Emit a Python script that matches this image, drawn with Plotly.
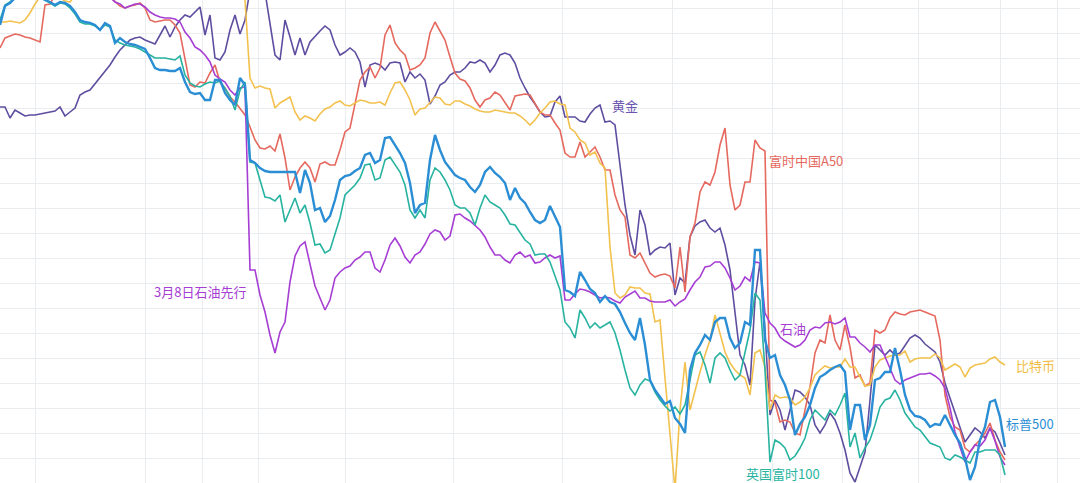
import plotly.graph_objects as go

# Relative performance (% change, one point per trading day)
gold = [-10.7,-10.7,-11.8,-11.0,-11.3,-11.6,-11.5,-11.5,-11.4,-11.3,-11.2,-11.1,-10.7,-11.6,-11.2,-10.8,-9.5,-9.2,-9.0,-8.4,
        -7.8,-7.1,-6.5,-5.7,-5.0,-4.5,-4.0,-3.8,-3.7,-4.0,-4.2,-4.4,-3.5,-2.6,-3.7,-2.7,-2.0,-1.5,-1.7,-1.2,
        -0.7,-3.5,-1.5,-5.8,-6.0,-5.2,-3.0,-1.5,-3.4,-2.0,1.0,1.5,1.5,0.8,-2.5,-5.5,-6.0,-2.0,-3.7,-5.5,
        -3.8,-5.5,-4.2,-3.6,-3.1,-2.6,-3.0,-4.5,-5.5,-5.2,-4.8,-5.2,-6.2,-8.7,-6.5,-6.3,-6.5,-7.0,-6.3,-6.2,
        -6.3,-8.2,-7.2,-7.8,-7.4,-8.0,-10.4,-9.6,-8.5,-8.2,-7.5,-7.2,-7.2,-6.8,-6.2,-6.3,-6.0,-6.3,-7.2,-6.5,
        -5.5,-5.3,-5.5,-6.3,-7.8,-8.8,-9.7,-10.4,-11.2,-11.7,-11.6,-10.2,-9.6,-11.7,-11.7,-11.7,-12.1,-12.2,-11.4,-10.8,
        -10.5,-12.2,-12.1,-12.5,-16.5,-20.5,-23.5,-25.5,-21.0,-22.5,-25.5,-25.0,-24.7,-24.8,-24.3,-29.5,-27.8,-28.3,-23.7,-22.6,
        -22.2,-22.0,-22.8,-23.2,-22.8,-24.5,-27.0,-31.0,-35.5,-36.5,-38.5,-30.0,-26.2,-33.0,-41.5,-40.0,-41.0,-43.0,-41.0,-39.0,
        -39.2,-39.7,-40.5,-42.5,-43.3,-42.5,-41.3,-42.0,-43.3,-45.0,-47.3,-48.2,-46.7,-45.2,-40.0,-34.5,-35.0,-35.5,-35.0,-35.5,
        -35.3,-34.5,-33.8,-33.5,-33.8,-34.4,-34.8,-35.2,-36.2,-38.3,-39.8,-41.2,-42.8,-44.2,-43.5,-42.8,-43.2,-43.8,-42.8,-43.2,
        -44.3,-45.5]

a50 = [-4.8,-3.8,-3.6,-3.4,-3.5,-3.7,-3.8,-4.0,-4.2,-0.5,-0.4,0.5,1.5,1.8,2.0,2.2,2.0,1.8,1.8,1.5,
       1.2,1.0,0.3,-0.2,-0.6,-0.8,-0.6,-0.5,-0.3,-0.8,-2.0,-2.2,-2.1,-2.0,-2.0,-2.5,-3.3,-5.8,-8.5,-8.7,
       -8.2,-8.3,-7.3,-6.5,-8.2,-8.8,-9.7,-10.2,-10.8,-11.5,-12.7,-14.0,-14.8,-14.9,-14.6,-15.1,-13.4,-15.8,-19.0,-17.7,
       -16.8,-16.2,-16.8,-18.2,-16.4,-16.2,-16.5,-16.5,-15.0,-13.2,-12.8,-10.5,-8.0,-7.2,-6.7,-7.8,-6.8,-3.5,-2.5,-4.3,
       -5.0,-5.5,-7.0,-6.8,-6.5,-5.8,-3.3,-2.2,-3.1,-4.0,-5.7,-7.3,-7.9,-8.1,-8.8,-10.0,-10.7,-10.0,-9.8,-9.2,
       -9.5,-10.3,-11.0,-9.6,-9.5,-9.4,-9.5,-10.4,-11.2,-11.5,-11.5,-12.3,-13.0,-15.3,-15.7,-15.7,-14.2,-15.7,-15.2,-14.7,
       -15.7,-17.0,-17.0,-19.5,-21.0,-21.7,-25.5,-25.8,-25.3,-26.3,-27.3,-27.7,-27.5,-27.4,-27.6,-28.8,-24.7,-29.2,-23.7,-22.3,
       -19.2,-18.2,-18.5,-17.2,-14.5,-12.8,-18.5,-21.0,-20.5,-18.2,-18.2,-14.0,-14.8,-15.1,-40.0,-40.3,-42.2,-42.0,-42.2,-43.3,
       -43.5,-41.0,-38.7,-35.3,-34.0,-34.3,-31.5,-34.0,-35.0,-32.5,-34.7,-37.8,-37.5,-38.6,-38.3,-33.0,-33.3,-33.0,-31.8,-31.2,
       -31.4,-31.5,-31.2,-31.1,-31.0,-31.2,-31.4,-31.6,-34.0,-39.5,-41.7,-42.7,-43.0,-44.8,-45.2,-44.5,-44.0,-43.3,-42.3,-44.0,
       -45.2,-46.0]

bitcoin = [-2.2,-2.2,-2.1,-2.2,-2.3,-2.0,-1.3,-0.4,0.3,0.6,0.8,0.5,0.2,-0.1,-0.2,0.5,1.2,1.8,2.0,2.5,
           2.8,3.0,3.0,2.8,3.0,3.0,2.8,2.5,2.5,2.2,2.5,2.5,2.2,2.0,2.2,2.5,2.2,2.0,1.8,2.0,
           2.2,1.8,1.5,1.5,1.2,1.5,1.2,1.0,0.8,0.0,-7.8,-8.8,-8.6,-8.8,-8.9,-10.8,-10.3,-10.0,-9.7,-11.2,
           -12.0,-11.6,-11.8,-12.1,-11.4,-10.9,-10.7,-10.3,-10.1,-10.5,-10.6,-10.3,-10.0,-10.1,-10.3,-10.3,-10.2,-10.5,-9.3,-8.3,
           -8.2,-9.0,-10.0,-11.5,-10.9,-10.8,-10.2,-9.7,-9.8,-10.4,-10.5,-10.1,-10.1,-10.4,-10.6,-10.9,-11.1,-11.2,-11.2,-11.0,
           -11.1,-11.2,-11.3,-11.3,-11.6,-12.0,-12.5,-12.0,-11.3,-10.8,-10.2,-10.1,-10.4,-10.5,-12.8,-13.2,-14.0,-14.3,-15.5,-15.2,
           -16.3,-16.8,-24.7,-29.3,-29.8,-29.5,-28.7,-28.8,-28.8,-29.3,-29.4,-32.2,-32.0,-37.8,-43.0,-49.0,-41.0,-36.2,-41.0,-39.0,
           -37.2,-35.5,-34.0,-31.5,-33.5,-35.2,-36.3,-37.0,-37.5,-37.8,-39.5,-35.3,-35.0,-36.7,-41.0,-39.5,-39.8,-39.7,-39.8,-40.5,
           -40.2,-39.7,-38.8,-37.5,-37.0,-36.6,-36.8,-36.7,-36.7,-35.9,-36.7,-36.7,-37.7,-38.6,-38.5,-36.7,-36.0,-35.8,-35.6,-35.5,
           -35.5,-35.1,-36.2,-35.9,-35.8,-35.8,-35.8,-35.4,-35.8,-37.0,-36.7,-36.4,-36.7,-37.7,-36.8,-36.5,-36.4,-36.3,-35.9,-35.7,
           -36.2,-36.5]

oil = [1.2,1.4,1.5,1.3,1.2,1.5,1.8,1.6,1.4,1.2,1.5,1.8,2.0,1.8,1.6,1.5,1.4,1.2,1.0,1.0,
       0.8,0.6,0.3,-0.2,-0.4,-0.8,-0.6,-0.4,-0.4,-0.7,-1.2,-1.5,-1.7,-1.8,-1.8,-1.9,-2.2,-3.2,-3.8,-4.7,
       -5.0,-5.5,-6.2,-7.5,-7.9,-8.2,-9.0,-9.5,-8.8,-8.7,-27.0,-27.0,-29.5,-31.2,-33.5,-35.3,-33.2,-32.2,-28.2,-25.6,
       -24.6,-24.2,-26.4,-28.6,-29.8,-31.0,-30.0,-27.8,-27.2,-26.8,-26.6,-26.0,-25.7,-25.2,-25.2,-26.8,-27.2,-26.0,-24.5,-23.8,
       -24.6,-25.7,-26.3,-25.5,-25.2,-24.4,-23.4,-23.0,-23.2,-24.0,-23.6,-21.5,-21.4,-21.8,-22.1,-22.6,-23.0,-23.7,-24.7,-25.5,
       -25.5,-26.0,-26.3,-25.5,-25.2,-25.7,-25.5,-26.3,-26.2,-25.8,-25.5,-25.8,-25.6,-30.0,-30.0,-29.4,-28.9,-29.0,-29.2,-29.5,
       -29.8,-29.7,-29.8,-30.1,-30.3,-29.7,-29.4,-29.1,-29.8,-29.8,-30.1,-30.2,-30.2,-30.2,-30.0,-30.6,-30.2,-29.9,-29.0,-28.2,
       -27.7,-26.7,-26.6,-26.2,-26.2,-26.8,-27.8,-29.0,-28.6,-27.7,-28.1,-26.2,-26.3,-31.3,-32.3,-32.8,-33.7,-34.1,-34.4,-34.7,
       -34.5,-34.0,-33.0,-32.7,-32.8,-32.3,-32.2,-32.4,-32.2,-31.8,-33.7,-33.7,-34.3,-34.7,-35.2,-34.5,-34.5,-35.7,-36.8,-38.0,
       -38.4,-38.0,-37.8,-37.6,-37.4,-37.4,-37.3,-37.6,-38.0,-38.8,-40.8,-43.2,-44.8,-46.2,-45.2,-44.5,-44.6,-44.0,-42.8,-44.1,
       -45.7,-46.5]

sp500 = [-2.5,-0.6,-0.3,0.2,0.5,0.6,0.5,0.4,0.3,0.0,-0.2,-0.5,-0.2,-0.3,-0.6,-1.2,-2.0,-2.2,-2.3,-2.5,
         -3.0,-2.3,-2.6,-4.3,-3.8,-4.2,-4.4,-4.5,-4.7,-4.9,-5.8,-6.8,-7.0,-7.0,-7.1,-7.1,-6.8,-8.2,-9.2,-9.4,
         -9.3,-10.0,-10.0,-8.0,-8.0,-9.3,-10.0,-10.5,-7.8,-8.5,-16.0,-16.3,-16.8,-17.1,-17.2,-17.2,-17.2,-17.2,-17.2,-17.2,
         -19.3,-17.0,-18.3,-21.0,-20.8,-22.2,-21.6,-20.0,-18.0,-17.6,-17.5,-17.1,-16.8,-15.5,-15.3,-16.3,-16.0,-13.8,-13.7,-14.5,
         -15.3,-16.3,-18.3,-21.3,-20.5,-20.3,-16.0,-13.5,-15.0,-16.2,-16.8,-17.5,-17.8,-18.0,-18.7,-19.2,-18.5,-17.2,-16.7,-17.3,
         -17.7,-18.3,-20.0,-18.8,-19.8,-20.3,-21.2,-22.0,-22.3,-22.0,-20.6,-21.6,-22.7,-29.0,-29.2,-29.6,-27.2,-28.0,-28.9,-29.3,
         -30.2,-29.6,-30.2,-30.4,-31.2,-32.3,-33.3,-34.0,-31.8,-34.5,-38.0,-39.0,-39.7,-40.4,-40.1,-41.8,-42.4,-43.3,-37.0,-35.3,
         -34.5,-33.5,-34.0,-32.2,-31.8,-31.8,-33.8,-34.8,-34.3,-32.2,-32.5,-25.0,-25.0,-34.0,-35.8,-35.5,-37.5,-38.5,-40.0,-43.5,
         -42.4,-41.7,-40.5,-38.8,-37.7,-37.4,-37.0,-36.7,-36.5,-37.2,-43.0,-40.5,-40.5,-44.0,-42.5,-38.0,-37.8,-37.2,-37.2,-34.8,
         -37.0,-39.5,-41.0,-41.6,-41.7,-42.0,-42.7,-42.4,-42.5,-41.5,-42.5,-43.5,-44.3,-45.8,-48.0,-46.7,-44.0,-42.7,-40.2,-40.0,
         -41.7,-44.7]

ftse100 = [-2.0,-0.5,-0.2,0.3,0.6,0.8,0.6,0.5,0.3,0.0,-0.3,-0.6,-0.3,-0.4,-0.8,-1.4,-2.2,-2.4,-2.4,-2.6,
           -3.0,-2.5,-2.7,-4.0,-4.3,-4.5,-4.6,-4.7,-4.9,-5.2,-5.5,-5.8,-5.8,-5.8,-5.9,-6.0,-5.6,-7.5,-8.3,-8.6,
           -8.7,-8.4,-8.2,-8.3,-8.1,-8.8,-9.6,-11.0,-9.0,-8.2,-16.2,-16.3,-18.0,-19.7,-19.8,-20.1,-19.5,-22.2,-21.0,-19.8,
           -21.3,-20.5,-22.3,-24.5,-24.4,-25.3,-25.0,-23.5,-21.8,-19.5,-19.0,-18.5,-17.8,-16.5,-16.4,-18.0,-17.8,-16.0,-15.7,-16.4,
           -17.2,-18.5,-21.0,-21.8,-21.0,-21.8,-18.0,-16.8,-17.2,-18.0,-19.0,-20.5,-20.8,-20.8,-21.3,-22.5,-20.8,-19.5,-20.2,-20.5,
           -20.8,-21.5,-22.4,-22.5,-23.2,-24.0,-24.4,-25.5,-25.4,-25.4,-26.2,-27.5,-29.0,-32.2,-32.8,-33.8,-31.0,-31.8,-32.8,-32.3,
           -32.8,-32.5,-32.2,-33.3,-35.0,-37.0,-38.8,-39.5,-38.5,-37.9,-38.1,-39.2,-40.0,-40.6,-41.1,-40.7,-41.4,-40.5,-37.8,-35.5,
           -35.2,-36.5,-38.3,-35.8,-35.3,-35.8,-37.0,-38.0,-37.5,-35.2,-33.0,-29.3,-30.0,-37.0,-46.2,-44.0,-44.3,-44.8,-46.0,-45.6,
           -44.8,-43.8,-42.0,-41.0,-41.5,-42.0,-41.0,-41.5,-40.5,-39.3,-44.7,-43.3,-45.8,-44.8,-44.0,-42.5,-40.7,-40.0,-39.8,-39.0,
           -40.0,-41.3,-42.0,-42.7,-43.0,-43.7,-44.3,-44.5,-44.7,-45.8,-46.0,-45.5,-45.7,-46.0,-46.3,-45.2,-45.2,-45.0,-45.0,-45.0,
           -45.5,-47.5]

grid_days = [7, 29, 40.4, 51.6, 69, 90.6, 112.4, 134.4, 154.4, 168.4, 183.6, 200, 211.4]

series = [
    ("黄金", gold, "#5f4ea0", 1.6),
    ("富时中国A50", a50, "#e5695e", 1.6),
    ("比特币", bitcoin, "#f2c14e", 1.6),
    ("石油", oil, "#a63ed4", 1.6),
    ("英国富时100", ftse100, "#27b3a0", 1.6),
    ("标普500", sp500, "#2b8ed4", 2.4),
]

labels = [
    ("黄金", 125, -10.5, "center", "#6a55b0"),
    ("富时中国A50", 153.4, -16.0, "left", "#e5695e"),
    ("3月8日石油先行", 40, -29.1, "center", "#a63ed4"),
    ("石油", 155.6, -32.8, "left", "#a63ed4"),
    ("比特币", 202.8, -36.5, "left", "#f0bd45"),
    ("标普500", 200.8, -42.3, "left", "#2b8ed4"),
    ("英国富时100", 148.8, -47.3, "left", "#27b3a0"),
]

fig = go.Figure()
for name, vals, color, w in series:
    fig.add_trace(go.Scatter(
        x=list(range(len(vals))), y=vals, mode="lines", name=name,
        line=dict(color=color, width=w), showlegend=False, hoverinfo="skip"))

for text, x, y, anchor, color in labels:
    fig.add_annotation(x=x, y=y, text=text, showarrow=False, xanchor=anchor,
                       yanchor="middle", font=dict(size=13, color=color))

fig.update_layout(
    width=1080, height=483,
    margin=dict(l=0, r=0, t=0, b=0),
    paper_bgcolor="white", plot_bgcolor="white",
    font=dict(family="Noto Sans CJK SC, sans-serif"),
    xaxis=dict(range=[0, 216], tickvals=grid_days, showticklabels=False,
               showgrid=True, gridcolor="#e9edf0", gridwidth=1, zeroline=False,
               showline=False, ticks=""),
    yaxis=dict(range=[-48.3, 0], tick0=-0.8, dtick=2.5, showticklabels=False,
               showgrid=True, gridcolor="#e9edf0", gridwidth=1, zeroline=False,
               showline=False, ticks=""),
)

fig.write_html("out.html", config={"displayModeBar": False},
               post_script="document.body.style.margin='0';document.body.style.overflow='hidden';")
